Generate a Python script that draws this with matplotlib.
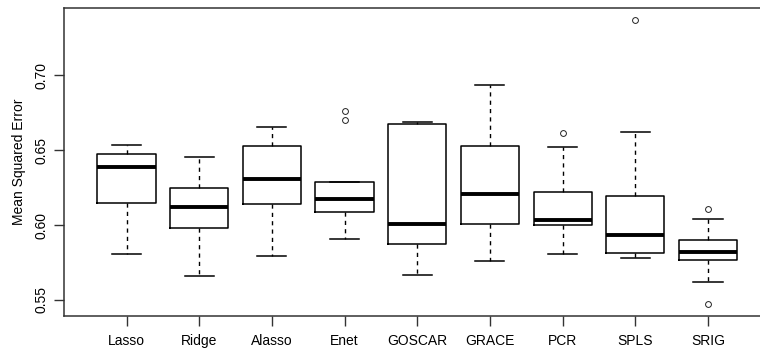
import matplotlib
matplotlib.use("Agg")
import matplotlib.pyplot as plt

plt.rcParams['font.family'] = ['Liberation Sans', 'DejaVu Sans']

metodos = ["Lasso", "Ridge", "Alasso", "Enet", "GOSCAR", "GRACE", "PCR", "SPLS", "SRIG"]
bigote_inf = [0.5809, 0.5660, 0.5794, 0.5905, 0.5667, 0.5758, 0.5805, 0.5778, 0.5622]
cuartil1 = [0.6150, 0.5981, 0.6139, 0.6087, 0.5876, 0.6007, 0.6003, 0.5814, 0.5769]
mediana = [0.6388, 0.6121, 0.6308, 0.6174, 0.6005, 0.6210, 0.6032, 0.5932, 0.5818]
cuartil3 = [0.6477, 0.6250, 0.6530, 0.6290, 0.6677, 0.6526, 0.6221, 0.6192, 0.5901]
bigote_sup = [0.6535, 0.6453, 0.6653, 0.6290, 0.6690, 0.6937, 0.6521, 0.6619, 0.6041]
atipicos = [[], [], [], [0.6762, 0.6704], [], [], [0.6617], [0.7371], [0.6110, 0.5471]]

stats = []
for i in range(len(metodos)):
    stats.append({
        "label": metodos[i],
        "whislo": bigote_inf[i],
        "q1": cuartil1[i],
        "med": mediana[i],
        "q3": cuartil3[i],
        "whishi": bigote_sup[i],
        "fliers": atipicos[i],
    })

fig = plt.figure(figsize=(7.6, 3.52), dpi=100)
ax = fig.add_axes([64 / 760, 1 - 316 / 352, 706.5 / 760, 308 / 352])

ax.bxp(stats, positions=range(1, 10), widths=0.8, patch_artist=False,
       boxprops=dict(color="black", linewidth=1.1),
       medianprops=dict(color="black", linewidth=2.8, solid_capstyle="butt"),
       whiskerprops=dict(color="black", linewidth=1.0, linestyle=(0, (3, 3))),
       capprops=dict(color="black", linewidth=1.1),
       flierprops=dict(marker="o", markerfacecolor="none", markeredgecolor="#222222",
                       markersize=4.2, markeredgewidth=0.7),
       capwidths=0.4)

ax.set_xlim(0.14, 9.86)
ax.set_ylim(0.5393, 0.7449)
ax.set_yticks([0.55, 0.60, 0.65, 0.70])
ax.set_yticklabels(["0.55", "0.60", "0.65", "0.70"], rotation=90, va="center")
ax.set_xticks(range(1, 10))
ax.set_xticklabels(metodos)
ax.tick_params(axis="both", labelsize=10, length=7, width=1, color="#333333", pad=4)
ax.tick_params(axis="x", pad=6)
ax.set_ylabel("Mean Squared Error", fontsize=10, labelpad=6)
for s in ax.spines.values():
    s.set_color("#333333")
    s.set_linewidth(1.1)

fig.savefig("out.png", dpi=100)
